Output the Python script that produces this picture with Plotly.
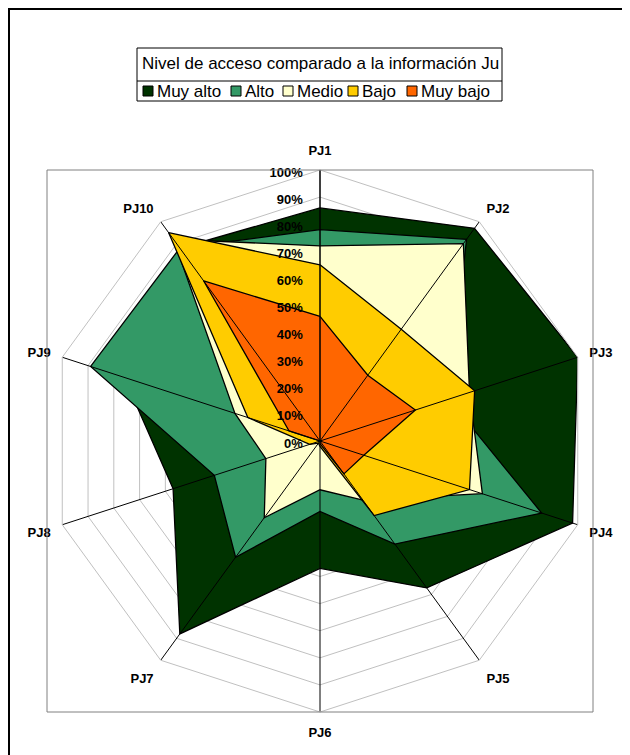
import plotly.graph_objects as go

categories = ["PJ1", "PJ2", "PJ3", "PJ4", "PJ5", "PJ6", "PJ7", "PJ8", "PJ9", "PJ10"]

muy_alto = [0.86, 0.97, 1.00, 0.98, 0.67, 0.47, 0.88, 0.57, 0.76, 0.88]
alto = [0.78, 0.92, 0.50, 0.86, 0.47, 0.26, 0.53, 0.41, 0.89, 0.88]
medio = [0.72, 0.90, 0.58, 0.63, 0.27, 0.18, 0.35, 0.21, 0.33, 0.92]
bajo = [0.65, 0.51, 0.60, 0.58, 0.34, 0.02, 0.01, 0.04, 0.28, 0.95]
muy_bajo = [0.46, 0.30, 0.37, 0.17, 0.15, 0.01, 0.00, 0.00, 0.12, 0.73]

series_names = ["Muy alto", "Alto", "Medio", "Bajo", "Muy bajo"]
series_values = [muy_alto, alto, medio, bajo, muy_bajo]
colors = ["#003300", "#339966", "#FFFFCC", "#FFCC00", "#FF6600"]

legend_title = "Nivel de acceso comparado a la información Ju"

FONT = "Liberation Sans, Arial, sans-serif"
OFF = 8  # page body margin
W, H = 622, 747
L, R, T, B = 39, 37, 162, 43
PW, PH = W - L - R, H - T - B


# convert page pixel positions to paper coordinates
def px(x):
    return (x - OFF - L) / PW


def py(y):
    return (H - B - (y - OFF)) / PH


fig = go.Figure()

for name, vals, col in zip(series_names, series_values, colors):
    fig.add_trace(go.Scatterpolar(
        r=vals + vals[:1], theta=categories + categories[:1],
        name=name, mode="lines", fill="toself", fillcolor=col,
        line=dict(color="black", width=1.3), showlegend=False,
    ))

# axis spokes sit on top of the filled areas, like in the Excel original
for cat in categories:
    fig.add_trace(go.Scatterpolar(
        r=[0, 1], theta=[cat, cat], mode="lines",
        line=dict(color="black", width=1), showlegend=False, hoverinfo="skip",
    ))

shapes = [
    # chart frame
    dict(type="rect", xref="paper", yref="paper", x0=px(9), x1=px(660),
         y0=py(780), y1=py(9), line=dict(color="black", width=2)),
    # plot area border
    dict(type="rect", xref="paper", yref="paper", x0=0, x1=1, y0=0, y1=1,
         line=dict(color="#808080", width=1)),
    # legend box and title separator
    dict(type="rect", xref="paper", yref="paper", x0=px(137), x1=px(502),
         y0=py(101), y1=py(48), line=dict(color="black", width=1)),
    dict(type="line", xref="paper", yref="paper", x0=px(137), x1=px(502),
         y0=py(81), y1=py(81), line=dict(color="black", width=1)),
]
annotations = [
    dict(text=legend_title, xref="paper", yref="paper", x=px(140), y=py(64),
         xanchor="left", yanchor="middle", showarrow=False,
         font=dict(family=FONT, size=17, color="black")),
]

legend_sq_x = [143, 231, 283, 348, 407]
for name, col, x in zip(series_names, colors, legend_sq_x):
    shapes.append(dict(type="rect", xref="paper", yref="paper",
                       x0=px(x), x1=px(x + 10), y0=py(96), y1=py(86),
                       fillcolor=col, line=dict(color="black", width=1)))
    annotations.append(dict(text=name, xref="paper", yref="paper",
                            x=px(x + 12), y=py(91), xanchor="left", yanchor="middle",
                            showarrow=False, font=dict(family=FONT, size=17, color="black")))

fig.update_layout(
    width=W, height=H,
    margin=dict(l=L, r=R, t=T, b=B),
    paper_bgcolor="white",
    showlegend=False,
    shapes=shapes,
    annotations=annotations,
    polar=dict(
        domain=dict(x=[0, 1], y=[0, 1]),
        bgcolor="white",
        gridshape="linear",
        radialaxis=dict(
            range=[0, 1], dtick=0.1, tickformat=".0%", angle=90,
            side="counterclockwise", showline=True, linecolor="black", linewidth=1,
            gridcolor="#c0c0c0", ticks="outside", ticklen=5,
            tickcolor="rgba(0,0,0,0)",
            tickfont=dict(family=FONT, size=13, color="black", weight="bold"),
        ),
        angularaxis=dict(
            direction="clockwise", rotation=90, showgrid=False,
            linecolor="#c0c0c0", ticks="outside", ticklen=9,
            tickcolor="rgba(0,0,0,0)",
            tickfont=dict(family=FONT, size=13, color="black", weight="bold"),
        ),
    ),
)

fig.write_html("out.html")
